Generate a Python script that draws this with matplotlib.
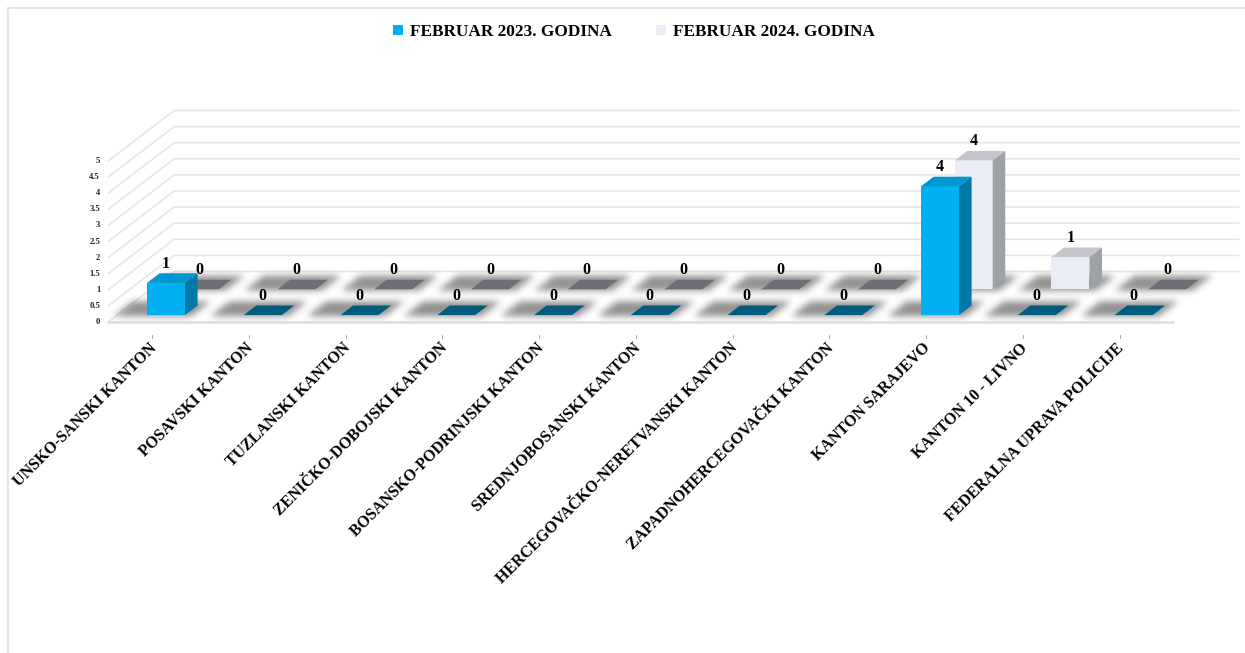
"""3D-style column chart: FEBRUAR 2023 vs FEBRUAR 2024 by kanton."""

import matplotlib
matplotlib.use("Agg")
import matplotlib.pyplot as plt
import numpy as np
from matplotlib.patches import Patch, Polygon
from matplotlib.path import Path

CATEGORIES = [
    "UNSKO-SANSKI KANTON",
    "POSAVSKI KANTON",
    "TUZLANSKI KANTON",
    "ZENIČKO-DOBOJSKI KANTON",
    "BOSANSKO-PODRINJSKI KANTON",
    "SREDNJOBOSANSKI KANTON",
    "HERCEGOVAČKO-NERETVANSKI KANTON",
    "ZAPADNOHERCEGOVAČKI KANTON",
    "KANTON SARAJEVO",
    "KANTON 10 - LIVNO",
    "FEDERALNA UPRAVA POLICIJE",
]
VALUES_2023 = [1, 0, 0, 0, 0, 0, 0, 0, 4, 0, 0]
VALUES_2024 = [0, 0, 0, 0, 0, 0, 0, 0, 4, 1, 0]
SERIES_NAMES = ["FEBRUAR 2023. GODINA", "FEBRUAR 2024. GODINA"]
Y_TICKS = [0, 0.5, 1, 1.5, 2, 2.5, 3, 3.5, 4, 4.5, 5]
Y_TICK_LABELS = ["0", "0.5", "1", "1.5", "2", "2.5", "3", "3.5", "4", "4.5", "5"]

# layout (pixels of the 1245x653 canvas)
W_PX, H_PX = 1245, 653
CAT_PX = 96.75          # pixels per category
VAL_PX = 32.2           # pixels per value unit
ORIGIN_X, ORIGIN_Y = 157, 322
DX = 66 / CAT_PX        # floor depth, in category units
DY = 50.5 / VAL_PX      # floor depth, in value units
BAR_W = 38 / CAT_PX
BAR_DEPTH = 0.19
ROW_D = [0.137, 0.647]  # front edge of each series row (fraction of depth)
FLOOR = (-0.505, 10.505)

FONT = ["Liberation Serif", "DejaVu Serif"]
GRID_COLOR = "#EAE5E2"

STYLES = [
    dict(front="#00B0F0", side="#0079A6", top="#0097D2", flat="#015B7C"),
    dict(front="#E9EDF5", side="#9EA2A6", top="#C3C6CA", flat="#6C7075"),
]


def proj(x, v, d):
    return x + d * DX, v + d * DY


def main():
    fig = plt.figure(figsize=(W_PX / 100, H_PX / 100), dpi=100)
    ax = fig.add_axes([0, 0, 1, 1])
    ax.set_xlim(-ORIGIN_X / CAT_PX, (W_PX - ORIGIN_X) / CAT_PX)
    ax.set_ylim(-(H_PX - ORIGIN_Y) / VAL_PX, ORIGIN_Y / VAL_PX)
    ax.set_axis_off()

    # chart border (top and left only visible)
    fig.add_artist(plt.Line2D([8 / W_PX, 8 / W_PX], [0, 1 - 8 / H_PX],
                              color="#E6E1DE", lw=1.2))
    fig.add_artist(plt.Line2D([8 / W_PX, 1], [1 - 8 / H_PX, 1 - 8 / H_PX],
                              color="#E6E1DE", lw=1.2))

    # walls: side wall diagonals + back wall horizontals
    x0, x1 = FLOOR
    for v in Y_TICKS:
        xa, ya = proj(x0, v, 0)
        xb, yb = proj(x0, v, 1)
        xc, yc = proj(x1, v, 1)
        ax.plot([xa, xb, xc], [ya, yb, yc], color=GRID_COLOR, lw=1.2,
                solid_capstyle="butt", zorder=1)
    ax.plot([x0, x1], [0, 0], color="#E2DDDA", lw=1.8, zorder=1)

    # y tick labels on the front edge
    for v, lab in zip(Y_TICKS, Y_TICK_LABELS):
        ax.text(x0 - 8 / CAT_PX, v, lab, ha="right", va="center",
                fontsize=6.2, fontweight="bold", family=FONT, color="#222222")

    xs = np.arange(len(CATEGORIES))
    series = [VALUES_2023, VALUES_2024]

    # soft shadows under bars
    gx = np.arange(-0.9, 11.4, 1 / CAT_PX)
    gy = np.arange(-0.6, 2.3, 1 / VAL_PX)
    GX, GY = np.meshgrid(gx, gy)
    pts = np.column_stack([GX.ravel(), GY.ravel()])
    mask = np.zeros(GX.size)
    for row, vals in enumerate(series):
        d0 = ROW_D[row] - 0.03
        d1 = ROW_D[row] + BAR_DEPTH + 0.08
        for x in xs:
            left = x - BAR_W / 2 - 0.33
            right = x + BAR_W / 2 + 0.08
            poly = [proj(left, 0, d0), proj(right, 0, d0),
                    proj(right, 0, d1), proj(left, 0, d1)]
            mask = np.maximum(mask, Path(poly).contains_points(pts))
    mask = mask.reshape(GX.shape)
    k = np.arange(-10, 11)
    kern = np.exp(-k ** 2 / (2 * 3.5 ** 2))
    kern /= kern.sum()
    mask = np.apply_along_axis(lambda r: np.convolve(r, kern, "same"), 1, mask)
    mask = np.apply_along_axis(lambda c: np.convolve(c, kern, "same"), 0, mask)
    rgba = np.zeros(GX.shape + (4,))
    rgba[..., :3] = 0.42
    rgba[..., 3] = mask * 0.75
    ax.imshow(rgba, extent=(gx[0], gx[-1], gy[0], gy[-1]), origin="lower",
              aspect="auto", interpolation="bilinear", zorder=2)

    # bars: back row first
    for row in (1, 0):
        vals = np.array(series[row], dtype=float)
        st = STYLES[row]
        d0 = ROW_D[row]
        d1 = d0 + BAR_DEPTH
        ax.bar(xs + d0 * DX, vals, width=BAR_W, bottom=d0 * DY,
               color=st["front"], linewidth=0, zorder=3)
        for x, v in zip(xs, vals):
            l, r = x - BAR_W / 2, x + BAR_W / 2
            if v > 0:
                top = [proj(l, v, d0), proj(r, v, d0), proj(r, v, d1), proj(l, v, d1)]
                side = [proj(r, 0, d0), proj(r, v, d0), proj(r, v, d1), proj(r, 0, d1)]
                ax.add_patch(Polygon(top, closed=True, fc=st["top"], lw=0, zorder=3))
                ax.add_patch(Polygon(side, closed=True, fc=st["side"], lw=0, zorder=3))
            else:
                flat = [proj(l, 0, d0), proj(r, 0, d0), proj(r, 0, d1), proj(l, 0, d1)]
                ax.add_patch(Polygon(flat, closed=True, fc=st["flat"], lw=0, zorder=3))
            lx, _ = proj(x, v, d0)
            _, ly = proj(x, v, d1)
            ax.text(lx, ly + 1.5 / VAL_PX, f"{v:g}", ha="center", va="bottom",
                    fontsize=11.5, fontweight="bold", family=FONT, color="black",
                    zorder=5)

    # category ticks and labels
    for x, name in zip(xs, CATEGORIES):
        ax.plot([x - 0.05, x - 0.05], [-13 / VAL_PX, -16 / VAL_PX],
                color="#9A9A9A", lw=0.6, zorder=1)
        ax.text(x + 3 / CAT_PX, -18 / VAL_PX, name, rotation=45, ha="right",
                va="top", fontsize=11.5, fontweight="bold", family=FONT,
                color="black")

    # legend
    handles = [Patch(facecolor=STYLES[i]["front"], edgecolor="none")
               for i in range(2)]
    fig.legend(handles, SERIES_NAMES, loc="center",
               bbox_to_anchor=(634 / W_PX, 1 - 32 / H_PX), ncol=2,
               frameon=False, handlelength=0.55, handleheight=0.55,
               handletextpad=0.4, columnspacing=2.6,
               prop=dict(family=FONT, weight="bold", size=12.4))

    fig.savefig("out.png", dpi=100, facecolor="white")


if __name__ == "__main__":
    main()
